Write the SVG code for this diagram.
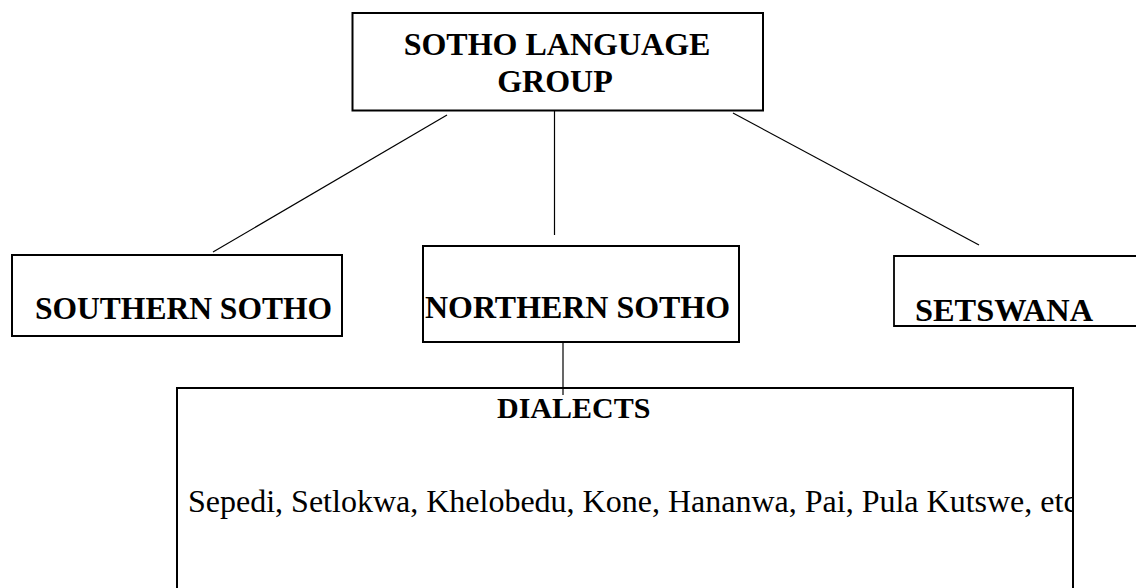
<svg xmlns="http://www.w3.org/2000/svg" width="1136" height="588" viewBox="0 0 1136 588">
  <defs>
    <style>
      .box { fill: #ffffff; stroke: #000000; stroke-width: 2; }
      .conn { stroke: #000000; stroke-width: 1.2; fill: none; }
      .bold { font-family: "Liberation Serif", "Times New Roman", serif; font-weight: bold; fill: #000000; }
      .reg { font-family: "Liberation Serif", "Times New Roman", serif; fill: #000000; }
    </style>
    <clipPath id="dialClip">
      <rect x="177" y="388" width="896" height="210"/>
    </clipPath>
  </defs>
  <rect x="0" y="0" width="1136" height="588" fill="#ffffff"/>

  <g id="root">
    <rect class="box" x="352.5" y="13" width="410.5" height="97.5" stroke-width="2.5"/>
    <text class="bold" x="557" y="54.5" font-size="32" text-anchor="middle">SOTHO LANGUAGE</text>
    <text class="bold" x="555" y="91.5" font-size="32" text-anchor="middle">GROUP</text>
  </g>

  <g id="southern">
    <rect class="box" x="12" y="255" width="330" height="81" stroke-width="1.8"/>
    <text class="bold" x="35" y="319" font-size="31" textLength="297" lengthAdjust="spacingAndGlyphs">SOUTHERN SOTHO</text>
  </g>

  <g id="northern">
    <rect class="box" x="423" y="246" width="316" height="96" stroke-width="1.8"/>
    <text class="bold" x="425" y="317.5" font-size="31" textLength="305" lengthAdjust="spacingAndGlyphs">NORTHERN SOTHO</text>
  </g>

  <g id="setswana">
    <path d="M1140,256 L894,256 L894,326 L1140,326" fill="#ffffff" stroke="#000000" stroke-width="1.8"/>
    <text class="bold" x="915" y="321" font-size="31" textLength="178" lengthAdjust="spacingAndGlyphs">SETSWANA</text>
  </g>

  <g id="dialects">
    <rect class="box" x="177" y="388" width="896" height="215" stroke-width="2"/>
    <text class="bold" x="497" y="418" font-size="30">DIALECTS</text>
    <text class="reg" x="188" y="512" font-size="32" clip-path="url(#dialClip)">Sepedi, Setlokwa, Khelobedu, Kone, Hananwa, Pai, Pula Kutswe, etc</text>
    <line x1="1073" y1="388" x2="1073" y2="588" stroke="#000000" stroke-width="2"/>
  </g>

  <g id="connectors">
    <line class="conn" x1="447" y1="115" x2="213" y2="252"/>
    <line class="conn" x1="554.5" y1="111" x2="554.5" y2="235"/>
    <line class="conn" x1="733" y1="113" x2="979" y2="245"/>
    <line class="conn" x1="563" y1="343" x2="563" y2="395"/>
  </g>
</svg>
